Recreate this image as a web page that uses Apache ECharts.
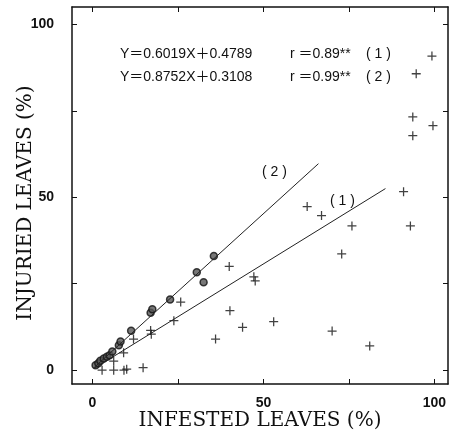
<!DOCTYPE html>
<html>
<head>
<meta charset="utf-8">
<script src="https://cdn.jsdelivr.net/npm/echarts@6/dist/echarts.min.js"></script>
<style>
  html, body { margin: 0; padding: 0; background: #fff; }
  #chart { width: 449px; height: 442px; }
</style>
</head>
<body>
<div id="chart"></div>
<script>
// tick positions
const majorTicks = [0, 25, 50, 75, 100];
const tickLabels = [0, 50, 100];

// (1) crosses: infested % , injured %
const crossPoints = [
  [2.8, 0], [6.2, 0], [9.2, 0], [10, 0.3], [14.8, 0.7], [6.2, 2.6], [9.1, 5],
  [12, 9], [17, 11.5], [17.2, 10.4], [23.8, 14.3], [25.8, 19.7], [36, 9],
  [40, 30], [40.2, 17.2], [43.9, 12.4], [47.2, 27], [47.6, 25.8], [53, 14],
  [62.8, 47.3], [67, 44.7], [75.9, 41.7], [72.9, 33.6], [70.1, 11.3], [81.1, 7],
  [91, 51.6], [93, 41.7], [93.7, 73.2], [93.7, 67.8], [99.6, 70.7], [94.7, 85.7],
  [99.3, 90.8]
];

// (2) dots
const dotPoints = [
  [0.9, 1.4], [1.7, 2.0], [2.3, 2.7], [3.3, 3.4], [4.2, 3.9], [5.0, 4.3],
  [5.8, 5.4], [7.7, 7.2], [8.2, 8.3], [11.3, 11.4], [17, 16.6], [17.5, 17.6],
  [22.7, 20.4], [30.5, 28.3], [32.5, 25.4], [35.5, 33.0]
];

// regression lines, end points
const line1 = [[0.5, 0.5], [85.7, 52.5]];
const line2 = [[0.3, 0.6], [66.1, 59.7]];

const eq1 = ['Y＝0.6019X＋0.4789', 'r ＝0.89**', '( 1 )'];
const eq2 = ['Y＝0.8752X＋0.3108', 'r ＝0.99**', '( 2 )'];

const ink = '#111';
const plusPath = 'path://M4.3,0H5.7V4.3H10V5.7H5.7V10H4.3V5.7H0V4.3H4.3Z';

const myChart = echarts.init(document.getElementById('chart'), null, { renderer: 'canvas' });

const axisBase = (min, max) => ({
  type: 'value',
  min,
  max,
  splitLine: { show: false },
  axisLine: { show: true, onZero: false, lineStyle: { color: ink, width: 1.5 } },
  axisTick: { show: true, inside: true, length: 5, customValues: majorTicks, lineStyle: { color: ink, width: 1 } }
});

const labelStyle = {
  customValues: tickLabels,
  color: ink,
  fontFamily: "'Liberation Sans Narrow', 'Liberation Sans', Arial",
  fontWeight: 'bold',
  fontSize: 14
};

const nameStyle = {
  color: ink,
  fontFamily: "'DejaVu Serif', 'Liberation Serif', serif",
  fontSize: 20
};

const eqText = (x, y, text) => ({
  type: 'text',
  left: x,
  top: y,
  style: { text, fill: ink, font: "14px 'Liberation Sans', 'Noto Sans CJK JP', sans-serif" }
});

const option = {
  animation: false,
  backgroundColor: '#fff',
  grid: { left: 72, right: 1, top: 7, bottom: 58, outerBoundsMode: 'none' },
  xAxis: [
    Object.assign(axisBase(-6, 104), {
      position: 'bottom',
      axisLabel: Object.assign({ margin: 12 }, labelStyle),
      name: 'INFESTED LEAVES (%)',
      nameLocation: 'middle',
      nameGap: 27,
      nameMoveOverlap: false,
      nameTextStyle: nameStyle
    }),
    Object.assign(axisBase(-6, 104), { position: 'top', axisLabel: { show: false } })
  ],
  yAxis: [
    Object.assign(axisBase(-4, 105), {
      position: 'left',
      axisLabel: Object.assign({ margin: 18 }, labelStyle),
      name: 'INJURIED LEAVES (%)',
      nameLocation: 'middle',
      nameGap: 36,
      nameMoveOverlap: false,
      nameTextStyle: Object.assign({ padding: [0, 15, 0, 0] }, nameStyle)
    }),
    Object.assign(axisBase(-4, 105), { position: 'right', axisLabel: { show: false } })
  ],
  graphic: [
    eqText(120, 47, eq1[0]), eqText(290, 47, eq1[1]), eqText(366, 47, eq1[2]),
    eqText(120, 70, eq2[0]), eqText(290, 70, eq2[1]), eqText(366, 70, eq2[2]),
    eqText(262, 165, '( 2 )'),
    eqText(330, 194, '( 1 )')
  ],
  series: [
    {
      type: 'line',
      data: line1,
      showSymbol: false,
      silent: true,
      lineStyle: { color: '#222', width: 1 }
    },
    {
      type: 'line',
      data: line2,
      showSymbol: false,
      silent: true,
      lineStyle: { color: '#222', width: 1 }
    },
    {
      type: 'scatter',
      data: crossPoints,
      symbol: plusPath,
      symbolSize: 9,
      itemStyle: { color: ink }
    },
    {
      type: 'scatter',
      data: dotPoints,
      symbol: 'circle',
      symbolSize: 7,
      itemStyle: { color: '#555', borderColor: ink, borderWidth: 1.5 }
    }
  ]
};

myChart.setOption(option);
</script>
</body>
</html>
